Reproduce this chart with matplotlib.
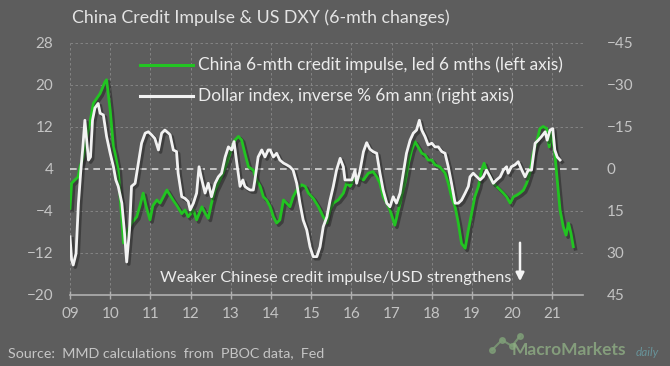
import matplotlib
matplotlib.use("Agg")
import matplotlib.pyplot as plt
import matplotlib.patheffects as pe
import numpy as np

plt.rcParams['font.family'] = ['Lato', 'DejaVu Sans']

# ---- data (decimal years, values) ----
china_t = [2009.00, 2009.04, 2009.12, 2009.20, 2009.25, 2009.33, 2009.42, 2009.50, 2009.58, 2009.75,
           2009.87, 2009.91, 2010.00, 2010.08, 2010.12, 2010.20, 2010.24, 2010.33, 2010.42, 2010.53,
           2010.66, 2010.74, 2010.82, 2010.89, 2010.99, 2011.06, 2011.16, 2011.24, 2011.41, 2011.57,
           2011.66, 2011.78, 2011.86, 2011.94, 2012.07, 2012.15, 2012.28, 2012.36, 2012.44, 2012.52,
           2012.61, 2012.73, 2012.81, 2012.90, 2012.98, 2013.10, 2013.19, 2013.27, 2013.35, 2013.44,
           2013.56, 2013.64, 2013.73, 2013.81, 2013.89, 2013.98, 2014.06, 2014.14, 2014.22, 2014.31,
           2014.39, 2014.47, 2014.55, 2014.64, 2014.76, 2014.85, 2014.93, 2015.05, 2015.18, 2015.30,
           2015.39, 2015.47, 2015.55, 2015.67, 2015.80, 2015.88, 2015.97, 2016.05, 2016.17, 2016.30,
           2016.42, 2016.54, 2016.63, 2016.71, 2016.79, 2016.88, 2016.96, 2017.04, 2017.08, 2017.17,
           2017.25, 2017.33, 2017.42, 2017.50, 2017.58, 2017.66, 2017.75, 2017.83, 2017.91, 2018.00,
           2018.08, 2018.20, 2018.33, 2018.41, 2018.49, 2018.58, 2018.66, 2018.74, 2018.83, 2018.91,
           2018.99, 2019.07, 2019.16, 2019.24, 2019.30, 2019.36, 2019.45, 2019.53, 2019.61, 2019.70,
           2019.78, 2019.86, 2019.95, 2020.03, 2020.11, 2020.19, 2020.28, 2020.36, 2020.44, 2020.52,
           2020.61, 2020.69, 2020.77, 2020.86, 2020.92, 2020.98, 2021.06, 2021.12, 2021.19, 2021.27,
           2021.34, 2021.40, 2021.46, 2021.52]
china_impulse = [-3.5, 1.3, 1.9, 2.5, 4.4, 6.3, 10.2, 13.0, 16.5, 18.4,
                 20.6, 21.0, 15.2, 8.2, 7.0, 3.8, -0.6, -10.1, -8.0, -6.3,
                 -5.1, -3.0, -0.6, -3.0, -5.7, -3.0, -1.9, -2.5, 0.0, -2.0,
                 -3.0, -4.5, -3.8, -5.1, -3.8, -5.7, -3.2, -4.4, -5.4, -2.5,
                 0.0, 1.9, 3.2, 5.1, 7.0, 9.5, 10.2, 9.5, 7.0, 4.4,
                 3.8, 1.9, 0.7, -1.3, -1.9, -3.2, -5.1, -6.3, -5.7, -1.9,
                 -2.5, -3.2, -1.3, 0.0, 1.0, 0.7, -0.6, -1.6, -3.2, -5.1,
                 -6.3, -3.8, -2.5, -1.9, -0.6, 1.3, 0.7, 1.9, 2.5, 1.9,
                 3.2, 3.5, 2.5, 1.3, -1.3, -2.5, -3.8, -5.7, -6.7, -3.8,
                 -1.3, 1.3, 5.1, 7.6, 9.2, 8.2, 7.0, 6.7, 5.7, 5.7,
                 4.8, 4.4, 3.2, 1.3, -1.3, -3.2, -6.3, -10.2, -11.1, -7.6,
                 -4.4, -1.3, 0.7, 3.8, 5.1, 3.8, 2.5, 1.3, 0.7, 0.0,
                 -0.6, -1.3, -2.5, -1.3, -1.0, -0.6, 0.0, 1.3, 3.2, 7.0,
                 9.2, 11.7, 12.1, 11.7, 8.2, 11.4, 7.0, 1.9, -3.8, -7.0,
                 -8.6, -6.3, -8.2, -10.8]

dxy_t = [2009.00, 2009.04, 2009.08, 2009.15, 2009.21, 2009.27, 2009.32, 2009.37, 2009.46, 2009.51,
         2009.56, 2009.62, 2009.70, 2009.75, 2009.83, 2009.91, 2010.00, 2010.08, 2010.14, 2010.20,
         2010.29, 2010.35, 2010.41, 2010.48, 2010.53, 2010.62, 2010.70, 2010.78, 2010.87, 2010.95,
         2011.03, 2011.11, 2011.20, 2011.28, 2011.36, 2011.45, 2011.49, 2011.57, 2011.65, 2011.69,
         2011.78, 2011.86, 2011.94, 2011.99, 2012.07, 2012.15, 2012.21, 2012.28, 2012.36, 2012.44,
         2012.52, 2012.61, 2012.69, 2012.77, 2012.86, 2012.94, 2013.02, 2013.08, 2013.15, 2013.23,
         2013.30, 2013.35, 2013.41, 2013.48, 2013.56, 2013.60, 2013.68, 2013.77, 2013.85, 2013.93,
         2013.98, 2014.06, 2014.14, 2014.22, 2014.31, 2014.39, 2014.47, 2014.55, 2014.64, 2014.72,
         2014.80, 2014.89, 2014.97, 2015.05, 2015.14, 2015.22, 2015.30, 2015.39, 2015.47, 2015.55,
         2015.63, 2015.72, 2015.80, 2015.84, 2015.92, 2016.01, 2016.09, 2016.13, 2016.21, 2016.30,
         2016.38, 2016.46, 2016.54, 2016.63, 2016.71, 2016.79, 2016.88, 2016.96, 2017.04, 2017.12,
         2017.21, 2017.29, 2017.37, 2017.46, 2017.54, 2017.62, 2017.69, 2017.75, 2017.83, 2017.91,
         2018.00, 2018.08, 2018.16, 2018.25, 2018.33, 2018.41, 2018.49, 2018.58, 2018.66, 2018.74,
         2018.83, 2018.91, 2018.95, 2019.03, 2019.12, 2019.20, 2019.28, 2019.36, 2019.45, 2019.53,
         2019.61, 2019.70, 2019.78, 2019.86, 2019.90, 2019.98, 2020.07, 2020.15, 2020.24, 2020.32,
         2020.40, 2020.48, 2020.57, 2020.65, 2020.73, 2020.82, 2020.87, 2020.94, 2021.01, 2021.06,
         2021.12, 2021.19]
dollar_inv = [24.2, 32.4, 34.3, 30.2, 12.2, 0.4, -7.9, -17.4, -3.2, -4.3,
              -17.4, -21.8, -23.4, -19.9, -19.3, -11.6, -5.6, -0.8, 3.9, 6.2,
              12.2, 21.8, 33.2, 21.8, 6.2, 5.1, -2.1, -9.2, -12.8, -13.3,
              -12.2, -10.9, -6.8, -12.8, -13.9, -12.8, -12.2, -6.8, -6.2, 1.5,
              9.9, 10.5, 11.6, 14.6, 12.2, 8.6, -0.8, 3.9, 8.6, 5.1,
              9.9, 5.1, 2.8, 1.5, -4.3, -7.9, -6.8, -9.8, -2.1, 6.2,
              3.9, 6.2, 6.9, 7.5, 7.5, 3.9, -4.3, -6.8, -4.3, -6.8,
              -6.8, -4.3, -5.6, -3.2, -2.1, -1.5, -0.8, 0.4, 5.1, 12.2,
              18.2, 21.8, 27.8, 31.3, 31.3, 27.8, 20.6, 17.1, 11.1, 6.2,
              0.4, -3.8, -0.8, 3.9, 3.9, 3.9, 0.4, 5.1, 0.9, -6.2,
              -9.4, -7.1, -6.2, -5.6, 1.5, 7.5, 12.2, 13.5, 9.9, 12.2,
              8.6, 1.5, -5.6, -10.3, -12.8, -13.9, -17.4, -13.9, -11.6, -8.6,
              -9.2, -7.9, -7.9, -6.2, -5.6, -0.8, 5.1, 12.2, 12.2, 11.1,
              8.6, 6.2, 2.8, 1.5, 2.8, 3.9, 2.8, 0.4, 2.8, 5.1,
              3.9, 2.8, 0.4, -0.8, 1.5, -0.8, -1.5, -2.6, 0.4, 2.8,
              0.4, 0.4, -9.2, -10.3, -11.6, -13.3, -10.3, -13.9, -14.4, -6.8,
              -4.3, -3.2]

year_ticks = list(range(2009, 2022))
year_labels = ["09", "10", "11", "12", "13", "14", "15", "16", "17", "18", "19", "20", "21"]
left_ticks = [28, 20, 12, 4, -4, -12, -20]
right_ticks = [-45, -30, -15, 0, 15, 30, 45]

# ---- figure ----
W, H = 670, 366
fig = plt.figure(figsize=(W / 100, H / 100), dpi=100)
bg = "#5d5d5d"
fig.patch.set_facecolor(bg)

ax = fig.add_axes([70 / W, 1 - 295 / H, (583 - 70) / W, (295 - 43) / H])
ax.set_facecolor("none")
ax.set_xlim(2009, 2009 + (583 - 70) / 40.2)
ax.set_ylim(-20, 28)

tick_col = "#c4c4c4"
grid_col = "#8a8a8a"
for yv in left_ticks[:-1]:
    if yv == 4:
        ax.axhline(yv, color="#d8d8d8", lw=1.2, ls=(0, (4, 3)), zorder=1)
    else:
        ax.axhline(yv, color=grid_col, lw=0.6, ls=(0, (3, 3)), zorder=0)
for xv in year_ticks:
    ax.axvline(xv, color=grid_col, lw=0.6, ls=(0, (3, 3)), zorder=0)
ax.axhline(-20, color="#b0b0b0", lw=1.2, zorder=1, clip_on=False)

for s in ax.spines.values():
    s.set_visible(False)
ax.set_xticks(year_ticks)
ax.set_xticklabels(year_labels)
ax.set_yticks(left_ticks)
ax.tick_params(axis="x", colors="#b0b0b0", labelcolor=tick_col, direction="inout", length=6, width=1,
               labelsize=11, pad=6)
ax.tick_params(axis="y", length=0, labelcolor=tick_col, labelsize=11, pad=12)

line_shadow = [pe.SimpleLineShadow(offset=(1.5, -1.5), shadow_color="#262626", alpha=0.55, linewidth=2.6),
               pe.Normal()]
ax.plot(china_t, china_impulse, color="#22c422", lw=2.0, zorder=3, path_effects=line_shadow)

ax2 = ax.twinx()
ax2.set_ylim(45, -45)
ax2.set_yticks(right_ticks)
for s in ax2.spines.values():
    s.set_visible(False)
ax2.tick_params(axis="y", length=0, labelcolor=tick_col, labelsize=11, pad=17)
ax2.plot(dxy_t, dollar_inv, color="#f2f2f2", lw=2.0, zorder=4, path_effects=line_shadow)

# legend (manual layout)
fig.lines.append(plt.Line2D([140 / W, 193 / W], [1 - 65 / H, 1 - 65 / H], color="#22c422", lw=2.2,
                            transform=fig.transFigure))
fig.lines.append(plt.Line2D([140 / W, 193 / W], [1 - 96 / H, 1 - 96 / H], color="#f2f2f2", lw=2.2,
                            transform=fig.transFigure))
fig.text(198 / W, 1 - 65 / H, "China 6-mth credit impulse, led 6 mths (left axis)", color="#ececec",
         fontsize=12.4, va="center", ha="left")
fig.text(198 / W, 1 - 96 / H, "Dollar index, inverse % 6m ann (right axis)", color="#ececec",
         fontsize=12.4, va="center", ha="left")

# title
fig.text(261 / W, 1 - 18 / H, "China Credit Impulse & US DXY (6-mth changes)", color="#e4e4e4",
         fontsize=12.8, ha="center", va="center")

# annotation
fig.text(160 / W, 1 - 278 / H, "Weaker Chinese credit impulse/USD strengthens", color="#ececec",
         fontsize=11.7, ha="left", va="center")
ax.annotate("", xy=(520 / W, 1 - 284 / H), xytext=(520 / W, 1 - 240 / H),
            xycoords="figure fraction", textcoords="figure fraction",
            arrowprops=dict(arrowstyle="-|>", color="#f4f4f4", lw=1.8, mutation_scale=12))

# source
fig.text(8 / W, 1 - 353 / H, "Source:  MMD calculations  from  PBOC data,  Fed", color="#c6c6c6",
         fontsize=10.3, ha="left", va="center")

# logo
fig.lines.append(plt.Line2D([492 / W, 502 / W, 512 / W, 520 / W],
                            [1 - 350 / H, 1 - 340 / H, 1 - 346 / H, 1 - 336 / H],
                            color="#7f9f78", lw=1.5, marker="o", markersize=4, alpha=0.8,
                            transform=fig.transFigure))
fig.text(512 / W, 1 - 350 / H, "MacroMarkets", color="#8fae84", fontsize=12.5, ha="left", va="center",
         fontweight="bold", alpha=0.8)
fig.text(636 / W, 1 - 353 / H, "daily", color="#6aa0a8", fontsize=8.5, ha="left", va="center",
         style="italic", alpha=0.8)

fig.savefig("out.png", dpi=100, facecolor=bg)
